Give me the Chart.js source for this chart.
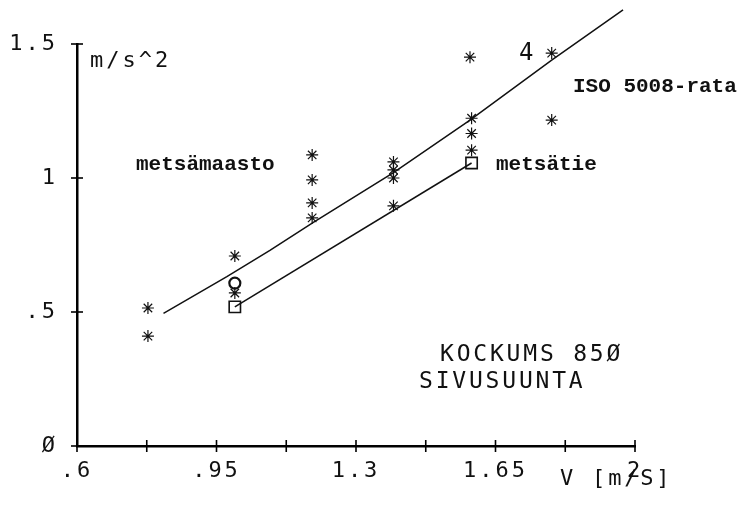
<!DOCTYPE html>
<html>
<head>
<meta charset="utf-8">
<script src="https://cdn.jsdelivr.net/npm/chart.js@4/dist/chart.umd.min.js"></script>
<style>
html,body{margin:0;padding:0;background:#fff;}
#wrap{width:755px;height:506px;position:relative;}
</style>
</head>
<body>
<div id="wrap"><canvas id="c" width="755" height="506"></canvas></div>
<script>
// ---- data ----
const xTickValues = [0.6, 0.775, 0.95, 1.125, 1.3, 1.475, 1.65, 1.825, 2.0];
const xTickLabels = [".6", "", ".95", "", "1.3", "", "1.65", "", "2"];
const yTickValues = [0, 0.5, 1, 1.5];
const yTickLabels = ["Ø", ".5", "1", "1.5"];

const starX = [0.778, 0.778, 0.996, 0.996, 1.19, 1.19, 1.19, 1.19, 1.394, 1.394, 1.394, 1.394, 1.586, 1.59, 1.59, 1.59, 1.791, 1.791];
const starY = [0.515, 0.41, 0.709, 0.571, 1.086, 0.993, 0.907, 0.851, 1.06, 1.03, 1.0, 0.896, 1.451, 1.223, 1.166, 1.104, 1.466, 1.216];

const circleX = [0.996];
const circleY = [0.608];

const squareX = [0.996, 1.59];
const squareY = [0.519, 1.056];

// ISO 5008-rata / metsämaasto fit line
const upperX = [0.817, 0.976, 1.084, 1.193, 1.394, 1.586, 1.791, 1.970];
const upperY = [0.495, 0.632, 0.730, 0.834, 1.020, 1.216, 1.440, 1.627];

// metsätie fit line
const lowerX = [0.996, 1.59];
const lowerY = [0.519, 1.056];

const pts = (xs, ys) => xs.map((x, i) => ({x: x, y: ys[i]}));

const MONO = '"DejaVu Sans Mono", "Liberation Mono", monospace';
const TYPE = '"Liberation Mono", "DejaVu Sans Mono", monospace';

const decorPlugin = {
  id: 'decor',
  beforeDraw(chart) {
    chart.ctx.letterSpacing = '3px';
  },
  afterDatasetsDraw(chart) {
    const ctx = chart.ctx;
    const xs = chart.scales.x, ys = chart.scales.y;
    ctx.save();
    ctx.strokeStyle = '#000';
    ctx.lineWidth = 1.6;
    const yb = ys.getPixelForValue(0);
    xTickValues.forEach(v => {
      const px = xs.getPixelForValue(v);
      ctx.beginPath(); ctx.moveTo(px, yb - 6); ctx.lineTo(px, yb + 6); ctx.stroke();
    });
    const xl = xs.getPixelForValue(0.6);
    yTickValues.forEach(v => {
      const py = ys.getPixelForValue(v);
      ctx.beginPath(); ctx.moveTo(xl - 6, py); ctx.lineTo(xl + 6, py); ctx.stroke();
    });
    ctx.restore();

    const txt = (s, x, y, font, spacing) => {
      ctx.save();
      ctx.letterSpacing = spacing;
      ctx.font = font;
      ctx.fillStyle = '#111';
      ctx.textAlign = 'left';
      ctx.textBaseline = 'alphabetic';
      ctx.fillText(s, x, y);
      ctx.restore();
    };
    txt('m/s^2', 90, 67, '22px ' + MONO, '3px');
    txt('metsämaasto', 136, 170, 'bold 21px ' + TYPE, '0px');
    txt('metsätie', 496, 170, 'bold 21px ' + TYPE, '0px');
    txt('ISO 5008-rata', 573, 92, 'bold 21px ' + TYPE, '0px');
    txt('4', 519, 60, '24px ' + MONO, '0px');
    txt('KOCKUMS 85Ø', 440, 361, '23px ' + MONO, '2.8px');
    txt('SIVUSUUNTA', 419, 388, '23px ' + MONO, '2.8px');
    txt('V [m/S]', 560, 485, '22px ' + MONO, '2.8px');
  },
  afterDraw(chart) {
    chart.ctx.letterSpacing = '0px';
  }
};

new Chart(document.getElementById('c'), {
  type: 'scatter',
  data: {
    datasets: [
      {
        type: 'line', label: 'upper', data: pts(upperX, upperY),
        borderColor: '#111', borderWidth: 1.5, pointRadius: 0, tension: 0, clip: false, fill: false
      },
      {
        type: 'line', label: 'lower', data: pts(lowerX, lowerY),
        borderColor: '#111', borderWidth: 1.5, pointRadius: 0, tension: 0, clip: false, fill: false
      },
      {
        label: 'stars', data: pts(starX, starY), pointStyle: 'star',
        pointRadius: 6, borderColor: '#111', borderWidth: 1.2, backgroundColor: 'transparent', clip: false
      },
      {
        label: 'circle', data: pts(circleX, circleY), pointStyle: 'circle',
        pointRadius: 5.5, borderColor: '#111', borderWidth: 2.2, backgroundColor: '#fff', clip: false
      },
      {
        label: 'squares', data: pts(squareX, squareY), pointStyle: 'rect',
        pointRadius: 8, borderColor: '#111', borderWidth: 1.6, backgroundColor: '#fff', clip: false
      }
    ]
  },
  options: {
    responsive: false,
    animation: false,
    devicePixelRatio: 1,
    layout: { padding: { top: 44, right: 120, bottom: 0, left: 0 } },
    plugins: { legend: { display: false }, tooltip: { enabled: false } },
    scales: {
      x: {
        type: 'linear', min: 0.6, max: 2,
        afterBuildTicks: s => { s.ticks = xTickValues.map(v => ({value: v})); },
        afterFit: s => { s.height = 60; },
        grid: { display: false, drawTicks: false },
        border: { display: true, color: '#000', width: 2.5 },
        ticks: {
          autoSkip: false, maxRotation: 0, padding: 12, color: '#111',
          font: { family: MONO, size: 22 },
          callback: (v, i) => xTickLabels[i]
        }
      },
      y: {
        type: 'linear', min: 0, max: 1.5,
        afterBuildTicks: s => { s.ticks = yTickValues.map(v => ({value: v})); },
        afterFit: s => { s.width = 77; },
        grid: { display: false, drawTicks: false },
        border: { display: true, color: '#000', width: 2.5 },
        ticks: {
          autoSkip: false, padding: 19, color: '#111',
          font: { family: MONO, size: 22 },
          callback: (v, i) => yTickLabels[i]
        }
      }
    }
  },
  plugins: [decorPlugin]
});
</script>
</body>
</html>
